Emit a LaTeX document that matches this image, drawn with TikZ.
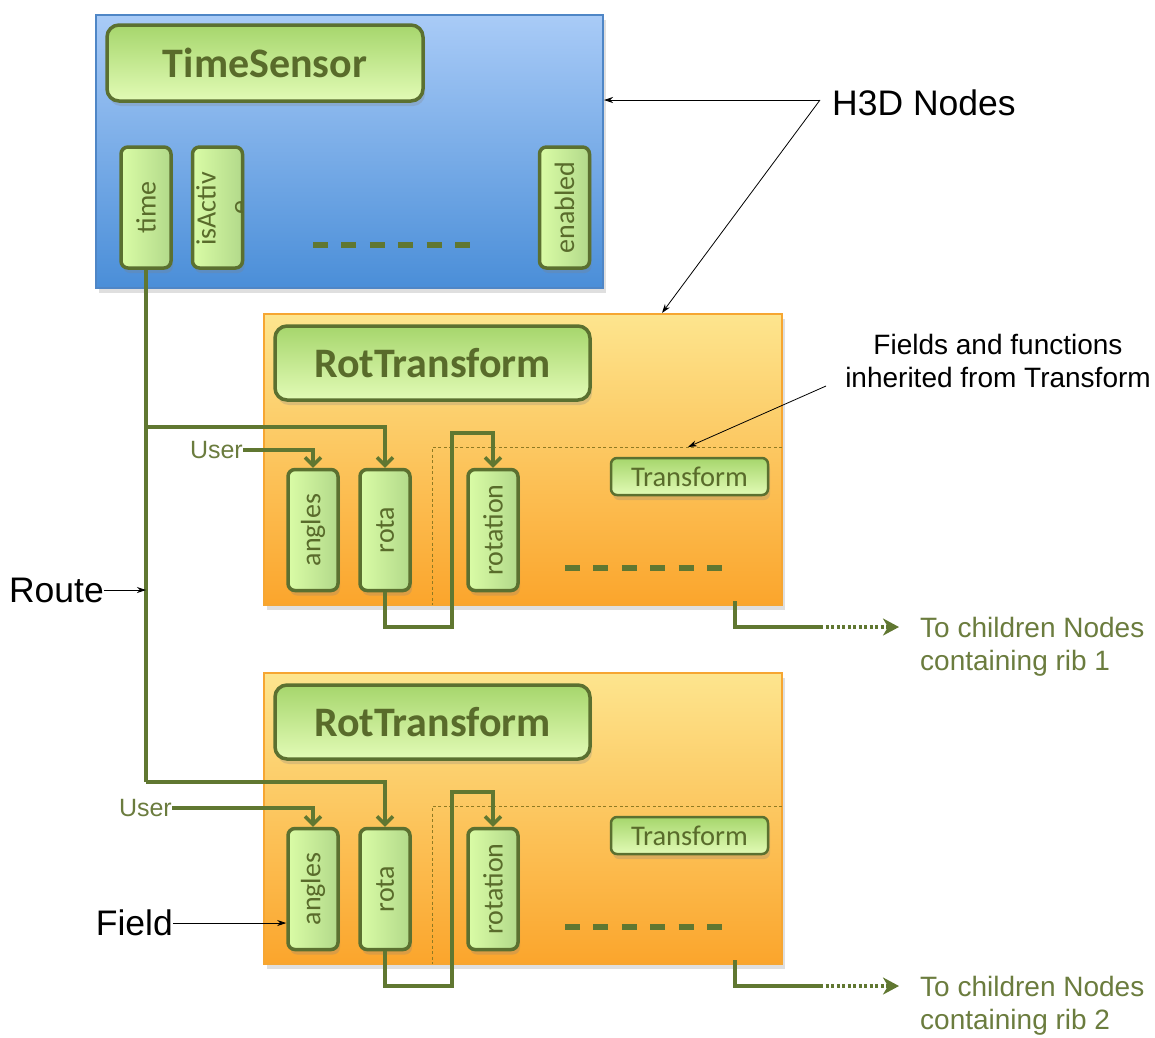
\documentclass[tikz,border=0pt]{standalone}
\usepackage{fontspec}
\setmainfont{Liberation Sans}
\newfontfamily\calfont{Carlito}
\usetikzlibrary{arrows.meta,calc,shadows}
\definecolor{olive}{HTML}{607731}
\definecolor{btntext}{HTML}{596B2B}
\definecolor{btnborder}{HTML}{5B7030}
\definecolor{btntop}{HTML}{A6D66C}
\definecolor{btnbot}{HTML}{E2FBB6}
\definecolor{fldleft}{HTML}{DAFCA6}
\definecolor{fldright}{HTML}{B2D98A}
\definecolor{bluetop}{HTML}{A9CBF7}
\definecolor{bluebot}{HTML}{4A8ED8}
\definecolor{blueborder}{HTML}{4F86C6}
\definecolor{ortop}{HTML}{FDE58E}
\definecolor{orbot}{HTML}{FBA52C}
\definecolor{orborder}{HTML}{F6A632}
\definecolor{labelgreen}{HTML}{6B7C3E}
\tikzset{
  h3dbox/.style={rectangle, line width=2pt, inner sep=0pt,
    drop shadow={opacity=0.25, shadow xshift=3pt, shadow yshift=-5pt}},
  bluebox/.style={h3dbox, draw=blueborder, top color=bluetop, bottom color=bluebot},
  orangebox/.style={h3dbox, draw=orborder, top color=ortop, bottom color=orbot},
  btn/.style={rectangle, rounded corners=12pt, draw=btnborder, line width=3.5pt,
    top color=btntop, bottom color=btnbot, text=btntext, inner sep=0pt,
    font=\calfont\bfseries\fontsize{42}{46}\selectfont,
    drop shadow={opacity=0.25, shadow xshift=2pt, shadow yshift=-5pt}},
  smallbtn/.style={rectangle, rounded corners=6pt, draw=btnborder, line width=2.5pt,
    top color=btntop, bottom color=btnbot, text=btntext, inner sep=0pt,
    minimum width=157pt, minimum height=37pt,
    font=\calfont\fontsize{28.5}{30}\selectfont,
    drop shadow={opacity=0.25, shadow xshift=2pt, shadow yshift=-5pt}},
  fieldbox/.style={rectangle, rounded corners=7pt, draw=btnborder, line width=3.5pt,
    left color=fldleft, right color=fldright, text=btntext, inner sep=0pt,
    minimum width=50pt, minimum height=121pt,
    font=\calfont\fontsize{28}{30}\selectfont,
    drop shadow={opacity=0.25, shadow xshift=2pt, shadow yshift=-5pt}},
  fieldtext/.style={text=btntext, inner sep=0pt, font=\calfont\fontsize{28}{30}\selectfont},
  route/.style={draw=olive, line width=3.5pt},
  routearrow/.style={route, -{Straight Barb[length=8pt,width=16pt,line width=3.5pt]}},
  annot/.style={draw=black, line width=0.8pt, -{Stealth[length=9pt,width=6pt]}},
  bigtext/.style={font=\fontsize{35.5}{40}\selectfont, inner sep=0pt},
  midtext/.style={font=\fontsize{28}{33}\selectfont, inner sep=0pt, align=center},
  greentext/.style={font=\fontsize{28}{33}\selectfont, inner sep=0pt, align=left, text=labelgreen},
  usertext/.style={font=\fontsize{25}{28}\selectfont, inner sep=0pt, text=labelgreen},
  dashrow/.style={draw=olive, line width=6pt, dash pattern=on 15pt off 13.4pt},
  inherit/.style={draw=olive!70!orange, line width=1pt, dash pattern=on 3pt off 2.5pt},
  outarrow/.style={route, dash pattern=on 3pt off 2.5pt, -{Stealth[length=16pt,width=17pt,inset=5pt]}},
}
\begin{document}
\begin{tikzpicture}[x=1pt,y=-1pt]
\useasboundingbox (0,0) rectangle (1155,1037);

% ---------- TimeSensor ----------
\node[bluebox, minimum width=507pt, minimum height=273pt] (blue) at (349.5,151.5) {};
\node[btn, minimum width=316pt, minimum height=76pt] (ts) at (265,63) {TimeSensor};
\node[fieldbox] (time) at (146,207.5) {\rotatebox{90}{time}};
\node[fieldbox] (isact) at (217.5,207.5) {};
\node[fieldtext] (isacttxt) at (206,209) {\rotatebox{90}{isActiv}};
\begin{scope}
  \clip (isact.south west) rectangle ($(isact.north east)+(-2,0)$);
  \node[fieldtext] (isacte) at (242,208) {\rotatebox{90}{e}};
\end{scope}
\node[fieldbox] (enabled) at (564.5,207.5) {\rotatebox{90}{enabled}};
\draw[dashrow] (313,245) -- (470,245);

% ---------- RotTransform 1 ----------
\node[orangebox, minimum width=518pt, minimum height=291pt] (or1) at (523,459.5) {};
\node[btn, minimum width=315pt, minimum height=74pt] (rt1) at (432.5,363) {RotTransform};
\draw[inherit] (782,447) -- (432,447) -- (432,605);
\node[smallbtn] (tr1) at (689.5,476.5) {Transform};
\node[fieldbox] (angles1) at (313,530) {\rotatebox{90}{angles}};
\node[fieldbox] (rota1) at (385,530) {\rotatebox{90}{rota}};
\node[fieldbox] (rotation1) at (493,530) {\rotatebox{90}{rotation}};
\draw[dashrow] (565,568) -- (722,568);

% ---------- RotTransform 2 ----------
\node[orangebox, minimum width=518pt, minimum height=291pt] (or2) at (523,818.5) {};
\node[btn, minimum width=315pt, minimum height=74pt] (rt2) at (432.5,722) {RotTransform};
\draw[inherit] (782,806) -- (432,806) -- (432,964);
\node[smallbtn] (tr2) at (689.5,835.5) {Transform};
\node[fieldbox] (angles2) at (313,889) {\rotatebox{90}{angles}};
\node[fieldbox] (rota2) at (385,889) {\rotatebox{90}{rota}};
\node[fieldbox] (rotation2) at (493,889) {\rotatebox{90}{rotation}};
\draw[dashrow] (565,927) -- (722,927);

% ---------- Routes ----------
\coordinate (j1) at (time.south |- 0,427);
\coordinate (j2) at (time.south |- 0,782);
\draw[route] (time.south) -- (j2);
\draw[routearrow] (j1) -| (rota1.north);
\draw[routearrow] (j2) -| (rota2.north);

\node[usertext, anchor=east] (user1) at (243,450) {User};
\draw[routearrow] (user1.east) -| (angles1.north);
\node[usertext, anchor=east] (user2) at (172,808) {User};
\draw[routearrow] (user2.east) -| (angles2.north);

\draw[routearrow] (rota1.south) |- (452,627) -- (452,433) -| (rotation1.north);
\draw[routearrow] (rota2.south) |- (452,986) -- (452,792) -| (rotation2.north);

% ---------- Outputs ----------
\coordinate (o1) at (735,601);
\coordinate (d1) at (820,627);
\coordinate (e1) at (899,627);
\node[greentext, anchor=west] (kids1) at (920,647) {To children Nodes\\containing rib 1};
\draw[route] (o1) |- (d1);
\draw[outarrow] (d1) -- (e1);

\coordinate (o2) at (735,960);
\coordinate (d2) at (820,986);
\coordinate (e2) at (899,986);
\node[greentext, anchor=west] (kids2) at (920,1006) {To children Nodes\\containing rib 2};
\draw[route] (o2) |- (d2);
\draw[outarrow] (d2) -- (e2);

% ---------- Annotations ----------
\node[bigtext, anchor=west] (h3d) at (832,103) {H3D Nodes};
\coordinate (h3dtip) at (820,100);
\draw[annot] (h3dtip) -- (blue.east |- h3dtip);
\draw[annot] (h3dtip) -- ($(or1.north)+(139,0)$);

\node[midtext] (inh) at (998,361) {Fields and functions\\inherited from Transform};
\coordinate (inhtip) at (826,386);
\draw[annot] (inhtip) -- (688,447);

\node[bigtext, anchor=east] (route) at (104,590) {Route};
\draw[annot] (route.east) -- (route.east -| j1);

\node[bigtext, anchor=east] (field) at (173,923) {Field};
\draw[annot] (field.east) -- (field.east -| angles2.west);
\end{tikzpicture}
\end{document}
